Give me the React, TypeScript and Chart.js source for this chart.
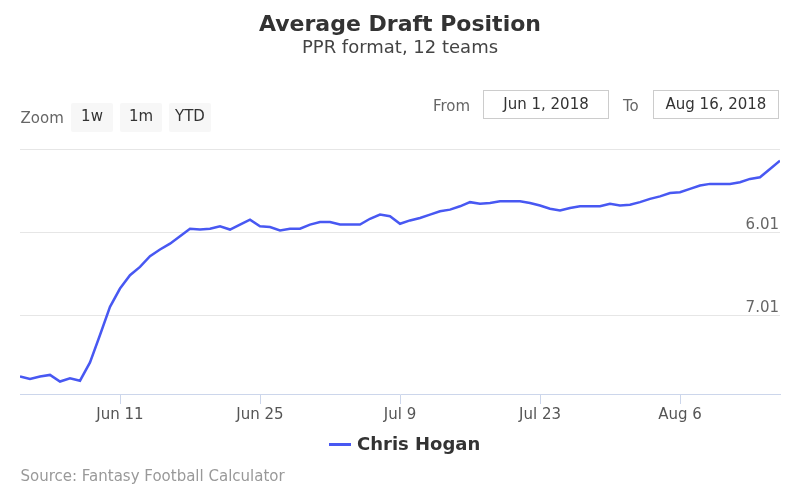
import React, { useEffect, useRef } from "react";
import { Chart, registerables } from "chart.js";

Chart.register(...registerables);

const chartTitle = "Average Draft Position";
const chartSubtitle = "PPR format, 12 teams";
const seriesName = "Chris Hogan";
const sourceText = "Source: Fantasy Football Calculator";
const fromDate = "Jun 1, 2018";
const toDate = "Aug 16, 2018";
const zoomButtons = ["1w", "1m", "YTD"];

// Daily ADP, Jun 1 .. Aug 16, 2018 (x = day offset from Jun 1)
const adpValues = [
  7.75, 7.78, 7.75, 7.73, 7.81, 7.77, 7.8, 7.58, 7.25, 6.91,
  6.69, 6.53, 6.43, 6.3, 6.22, 6.15, 6.06, 5.97, 5.98, 5.97,
  5.94, 5.98, 5.92, 5.86, 5.94, 5.95, 5.99, 5.97, 5.97, 5.92,
  5.89, 5.89, 5.92, 5.92, 5.92, 5.85, 5.8, 5.82, 5.91, 5.87,
  5.84, 5.8, 5.76, 5.74, 5.7, 5.65, 5.67, 5.66, 5.64, 5.64,
  5.64, 5.66, 5.69, 5.73, 5.75, 5.72, 5.7, 5.7, 5.7, 5.67,
  5.69, 5.68, 5.65, 5.61, 5.58, 5.54, 5.53, 5.49, 5.45, 5.43,
  5.43, 5.43, 5.41, 5.37, 5.35, 5.25, 5.15,
];

const xTickDays = [10, 24, 38, 52, 66];
const xTickLabels = ["Jun 11", "Jun 25", "Jul 9", "Jul 23", "Aug 6"];
const yTickValues = [5.01, 6.01, 7.01];
const yTickLabels = ["", "6.01", "7.01"];
const yMin = 5.01;
const yMax = 7.96;

const LINE_COLOR = "#4858f2";
const FONT = "'DejaVu Sans', sans-serif";

const yLabelPlugin = {
  id: "yInsideLabels",
  afterDatasetsDraw(chart: any) {
    const { ctx, chartArea, scales } = chart;
    const yScale = scales.y;
    ctx.save();
    ctx.font = "15px " + FONT;
    ctx.fillStyle = "#666666";
    ctx.textAlign = "right";
    ctx.textBaseline = "alphabetic";
    yTickValues.forEach((v, i) => {
      const label = yTickLabels[i];
      if (!label) return;
      ctx.fillText(label, chartArea.right - 1, yScale.getPixelForValue(v) - 3);
    });
    ctx.restore();
  },
};

export default function App() {
  const canvasRef = useRef<HTMLCanvasElement | null>(null);

  useEffect(() => {
    if (!canvasRef.current) return;
    const chart = new Chart(canvasRef.current, {
      type: "line",
      data: {
        datasets: [
          {
            label: seriesName,
            data: adpValues.map((v, i) => ({ x: i, y: v })),
            borderColor: LINE_COLOR,
            backgroundColor: LINE_COLOR,
            borderWidth: 2.5,
            pointRadius: 0,
            tension: 0,
            fill: false,
          },
        ],
      },
      options: {
        animation: false,
        responsive: false,
        layout: { padding: { top: 149, left: 20, right: 20, bottom: 76 } },
        plugins: {
          legend: { display: false },
          title: { display: false },
          tooltip: { enabled: false },
        },
        scales: {
          x: {
            type: "linear",
            min: 0,
            max: adpValues.length - 1,
            afterBuildTicks: (s: any) => {
              s.ticks = xTickDays.map((v) => ({ value: v }));
            },
            afterFit: (s: any) => {
              s.height = 30;
            },
            grid: {
              drawOnChartArea: false,
              drawTicks: true,
              tickLength: 10,
              color: "#ccd6eb",
              lineWidth: 1,
            },
            border: { display: true, color: "#ccd6eb", width: 1 },
            ticks: {
              autoSkip: false,
              maxRotation: 0,
              padding: 2,
              color: "#555555",
              font: { family: FONT, size: 15 },
              callback: (v: any) => {
                const idx = xTickDays.indexOf(Number(v));
                return idx >= 0 ? xTickLabels[idx] : "";
              },
            },
          },
          y: {
            type: "linear",
            position: "right",
            reverse: true,
            min: yMin,
            max: yMax,
            afterBuildTicks: (s: any) => {
              s.ticks = yTickValues.map((v) => ({ value: v }));
            },
            afterFit: (s: any) => {
              s.width = 0;
            },
            grid: { color: "#e6e6e6", drawTicks: false, lineWidth: 1 },
            border: { display: false },
            ticks: { display: false },
          },
        },
      },
      plugins: [yLabelPlugin],
    } as any);
    return () => chart.destroy();
  }, []);

  const abs = (o: any): React.CSSProperties => ({ position: "absolute", whiteSpace: "nowrap", ...o });

  return (
    <div
      style={{
        position: "absolute",
        left: 0,
        top: 0,
        width: 800,
        height: 500,
        background: "#ffffff",
        fontFamily: FONT,
        overflow: "hidden",
      }}
    >
      <canvas ref={canvasRef} width={800} height={500} style={{ display: "block", position: "absolute", left: 0, top: 0 }} />
      <div style={abs({ left: 0, width: 800, top: 13, textAlign: "center", fontSize: 22, lineHeight: "22px", fontWeight: "bold", color: "#333333" })}>
        {chartTitle}
      </div>
      <div style={abs({ left: 0, width: 800, top: 37.5, textAlign: "center", fontSize: 18, lineHeight: "18px", color: "#444444" })}>
        {chartSubtitle}
      </div>

      <div style={abs({ left: 20.5, top: 110.5, fontSize: 15, lineHeight: "15px", color: "#666666" })}>Zoom</div>
      {zoomButtons.map((b, i) => (
        <div
          key={b}
          style={abs({
            left: 71 + i * 49,
            top: 103,
            width: 42,
            height: 29,
            background: "#f7f7f7",
            borderRadius: 2,
            textAlign: "center",
            fontSize: 15,
            lineHeight: "26px",
            color: "#333333",
          })}
        >
          {b}
        </div>
      ))}

      <div style={abs({ left: 433, top: 99, fontSize: 15, lineHeight: "15px", color: "#666666" })}>From</div>
      <div
        style={abs({
          left: 483,
          top: 90,
          width: 126,
          height: 29,
          boxSizing: "border-box",
          border: "1px solid #cccccc",
          textAlign: "center",
          fontSize: 15,
          lineHeight: "27px",
          color: "#333333",
        })}
      >
        {fromDate}
      </div>
      <div style={abs({ left: 623, top: 99, fontSize: 15, lineHeight: "15px", color: "#666666" })}>To</div>
      <div
        style={abs({
          left: 653,
          top: 90,
          width: 126,
          height: 29,
          boxSizing: "border-box",
          border: "1px solid #cccccc",
          textAlign: "center",
          fontSize: 15,
          lineHeight: "27px",
          color: "#333333",
        })}
      >
        {toDate}
      </div>

      <div style={abs({ left: 329, top: 443, width: 22, height: 2.5, background: LINE_COLOR })} />
      <div style={abs({ left: 357, top: 435, fontSize: 18, lineHeight: "18px", fontWeight: "bold", color: "#333333" })}>
        {seriesName}
      </div>

      <div style={abs({ left: 20.5, top: 468.5, fontSize: 15, lineHeight: "15px", color: "#999999" })}>{sourceText}</div>
    </div>
  );
}
